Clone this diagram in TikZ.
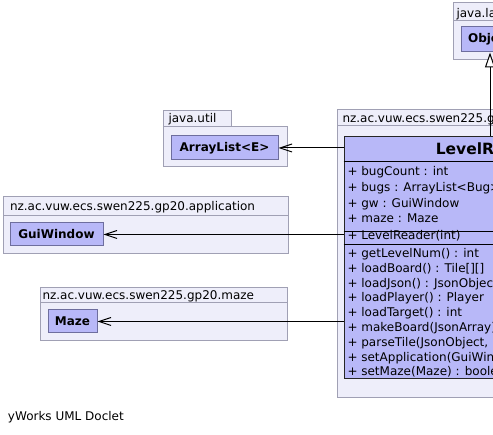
\documentclass[tikz,border=0pt]{standalone}
\usepackage{fontspec}
\setmainfont{DejaVu Sans}
\usetikzlibrary{arrows.meta,positioning}
\definecolor{pkgfill}{HTML}{EEEEFA}
\definecolor{pkgline}{HTML}{A0A0B4}
\definecolor{clsfill}{HTML}{B8B8F8}
\definecolor{clsline}{HTML}{6E6E9E}

\begin{document}
\begin{tikzpicture}[x=1pt,y=-1pt,line width=1pt,font=\fontsize{12}{14}\selectfont,
  pkg/.style={draw=pkgline,fill=pkgfill},
  cls/.style={draw=clsline,fill=clsfill,inner sep=0pt,font=\fontsize{12}{14}\selectfont\bfseries},
  pkgname/.style={anchor=base west,inner sep=0pt},
  member/.style={anchor=base west,inner sep=0pt},
  dep/.style={-{Straight Barb[length=12pt,width=8pt]}},
  gen/.style={-{Triangle[open,length=15pt,width=10pt,fill=white]}}]
  \useasboundingbox (0,0) rectangle (493,435);
  \clip (0,0) rectangle (493,435);

  % packages
  \draw[pkg] (453,3) rectangle (521,21);
  \draw[pkg] (453,21) rectangle (527,60);
  \node[pkgname] (langname) at (456,17.3) {java.lang};
  \draw[pkg] (163,111) rectangle (231,127);
  \draw[pkg] (163,127) rectangle (287,167);
  \node[pkgname] (utilname) at (168,122.5) {java.util};
  \draw[pkg] (3,197) rectangle (288,216);
  \draw[pkg] (3,216) rectangle (288,254);
  \node[pkgname] (appname) at (9.5,210.3) {nz.ac.vuw.ecs.swen225.gp20.application};
  \draw[pkg] (40,288) rectangle (287,303);
  \draw[pkg] (40,303) rectangle (287,341);
  \node[pkgname] (mazename) at (42,299.3) {nz.ac.vuw.ecs.swen225.gp20.maze};
  \draw[pkg] (337,110) rectangle (643,126);
  \draw[pkg] (337,126) rectangle (643,398);
  \node[pkgname] (persname) at (342,122.3) {nz.ac.vuw.ecs.swen225.gp20.persistence};

  % classes
  \node[cls,minimum width=58,minimum height=25] (object) at (490,39.5) {Object};
  \node[cls,minimum width=107,minimum height=24] (arraylist) at (224.5,148) {ArrayList<E>};
  \node[cls,minimum width=93,minimum height=23] (guiwindow) at (56.5,234.5) {GuiWindow};
  \node[cls,minimum width=49,minimum height=23] (maze) at (72.5,321.5) {Maze};
  \node[cls,draw=black!85,minimum width=292,minimum height=242] (levelreader) at (490,258) {};
  \node[font=\fontsize{15.5}{18}\selectfont\bfseries,inner sep=0pt] (lrtitle) at (490,149) {LevelReader};
  \draw[black] (levelreader.west |- 0,162) -- (levelreader.east |- 0,162);
  \draw[black] (levelreader.west |- 0,231.5) -- (levelreader.east |- 0,231.5);
  \draw[black] (levelreader.west |- 0,245) -- (levelreader.east |- 0,245);

  % members
  \node[member] (bugcount) at (347,175.7) {+ bugCount : int};
  \node[member] (bugs) at (347,191.5) {+ bugs : ArrayList<Bug>};
  \node[member] (gw) at (347,207.3) {+ gw : GuiWindow};
  \node[member] (mazefield) at (347,223) {+ maze : Maze};
  \node[member] (ctor) at (347,240) {+ LevelReader(int)};
  \node[member] (getlevelnum) at (347,257.5) {+ getLevelNum() : int};
  \node[member] (loadboard) at (347,272.3) {+ loadBoard() : Tile[][]};
  \node[member] (loadjson) at (347,287.1) {+ loadJson() : JsonObject};
  \node[member] (loadplayer) at (347,301.9) {+ loadPlayer() : Player};
  \node[member] (loadtarget) at (347,316.7) {+ loadTarget() : int};
  \node[member] (makeboard) at (347,331.5) {+ makeBoard(JsonArray) : Tile[][]};
  \node[member] (parsetile) at (347,346.3) {+ parseTile(JsonObject, int, int) : Tile};
  \node[member] (setapp) at (347,361.1) {+ setApplication(GuiWindow) : boolean};
  \node[member] (setmaze) at (347,375.9) {+ setMaze(Maze) : boolean};

  % relations
  \draw[gen] (levelreader.north) -- (object.south);
  \draw[dep] (levelreader.west |- arraylist.east) -- (arraylist.east);
  \draw[dep] (levelreader.west |- guiwindow.east) -- (guiwindow.east);
  \draw[dep] (levelreader.west |- maze.east) -- (maze.east);

  \node[pkgname] (doclet) at (7.5,420.7) {yWorks UML Doclet};
\end{tikzpicture}
\end{document}
